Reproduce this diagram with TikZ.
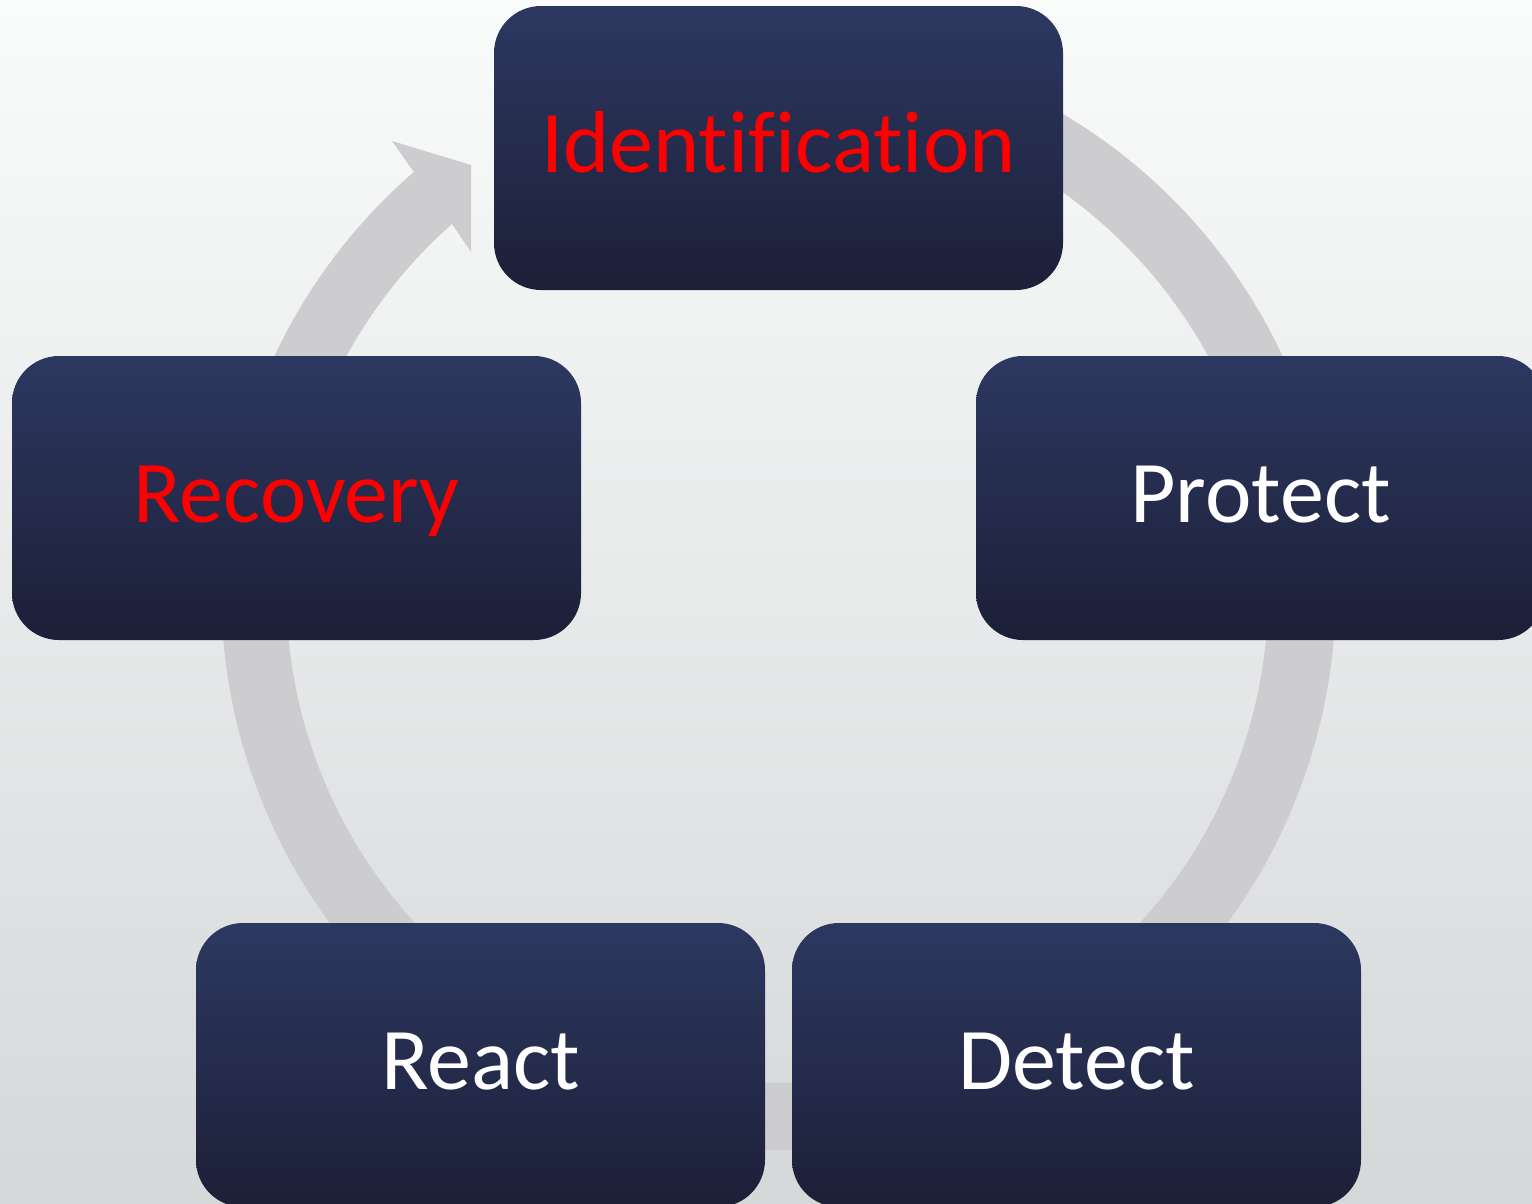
\documentclass[tikz,border=0pt]{standalone}
\usepackage{fontspec}
\setmainfont{Carlito}[Ligatures={NoCommon,NoRequired,NoContextual}]
\definecolor{boxtop}{HTML}{2D3861}
\definecolor{boxbot}{HTML}{1C1F37}
\definecolor{ringgrey}{HTML}{CDCDCF}
\definecolor{bgtop}{HTML}{FAFBFB}
\definecolor{bgbot}{HTML}{D5D8D9}
\begin{document}
\begin{tikzpicture}[x=1pt,y=-1pt,
  stage/.style={rounded corners=47pt, minimum width=569pt, minimum height=284pt,
    inner sep=0pt, top color=boxtop, bottom color=boxbot,
    font=\fontsize{88}{100}\selectfont, text height=56pt, text depth=8pt},
  redlabel/.style={text=red},
  whitelabel/.style={text=white},
  ring/.style={fill=ringgrey, draw=none}]
\useasboundingbox (0,0) rectangle (1532,1203);
\clip (0,0) rectangle (1532,1203);
\shade[top color=bgtop, bottom color=bgbot] (0,0) rectangle (1532,1203);
\coordinate (C) at (778.5,593);
\fill[ring] (C) ++(-70:557) arc[start angle=-70, end angle=229.1, radius=557]
  -- (392,141) -- (471,165) -- (471,252) -- (452,224)
  arc[start angle=228.5, end angle=-70, radius=491] -- cycle;
\node[stage, redlabel] (ident) at (778.5,148) {Identification};
\node[stage, whitelabel] (protect) at (1260.5,498) {Protect};
\node[stage, whitelabel] (detect) at (1076.5,1065) {Detect};
\node[stage, whitelabel] (react) at (480.5,1065) {React};
\node[stage, redlabel] (recovery) at (296.5,498) {Recovery};
\end{tikzpicture}
\end{document}
